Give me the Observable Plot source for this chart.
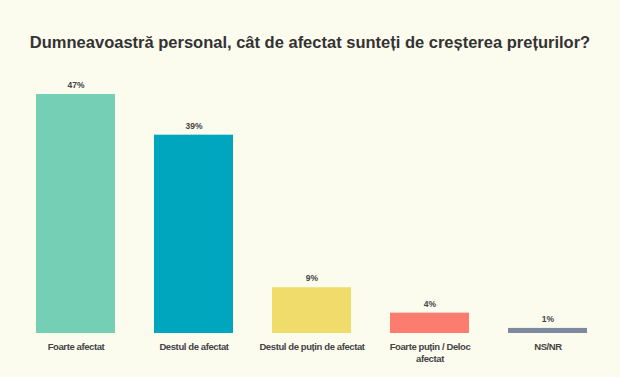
<!DOCTYPE html>
<html>
<head>
<meta charset="utf-8">
<script src="https://cdn.jsdelivr.net/npm/d3@7"></script>
<script src="https://cdn.jsdelivr.net/npm/@observablehq/plot@0.6"></script>
<style>
  html, body { margin: 0; padding: 0; background: #fbfbee; }
  body { width: 620px; height: 377px; overflow: hidden; font-family: "Liberation Sans", Arial, sans-serif; }
  #title { height: 62px; box-sizing: border-box; padding-top: 33px; text-align: center; font-weight: bold; font-size: 16.5px; color: #333; line-height: 18px; }
  g[aria-label="x-axis tick label"] text { letter-spacing: -0.4px; }
</style>
</head>
<body>
<div id="title">Dumneavoastră personal, cât de afectat sunteți de creșterea prețurilor?</div>
<div id="chart"></div>
<script>
const categories = ["Foarte afectat", "Destul de afectat", "Destul de puțin de afectat", "Foarte puțin / Deloc\nafectat", "NS/NR"];
const values = [47, 39, 9, 4, 1];
const colors = ["#74cfb4", "#00a6bd", "#efdc6b", "#fc7d70", "#7d8a9e"];

const data = categories.map((c, i) => ({category: c, value: values[i], color: colors[i]}));

const chart = Plot.plot({
  width: 620,
  height: 315,
  marginLeft: 15.5,
  marginRight: 13,
  marginTop: 32,
  marginBottom: 44,
  style: {background: "transparent", fontFamily: "Liberation Sans, Arial, sans-serif"},
  x: {domain: categories, paddingInner: 0.33, paddingOuter: 0.165, label: null},
  y: {domain: [0, 47], axis: null},
  marks: [
    Plot.barY(data, {x: "category", y: "value", fill: "color"}),
    Plot.text(data, {x: "category", y: "value", text: d => d.value + "%", dy: -9, fill: "#444", fontWeight: "bold", fontSize: 8.5}),
    Plot.axisX({tickSize: 0, tickPadding: 8, fontSize: 9.5, fontWeight: "bold", fill: "#444", lineHeight: 1.25, label: null})
  ]
});
document.getElementById("chart").appendChild(chart);
</script>
</body>
</html>
